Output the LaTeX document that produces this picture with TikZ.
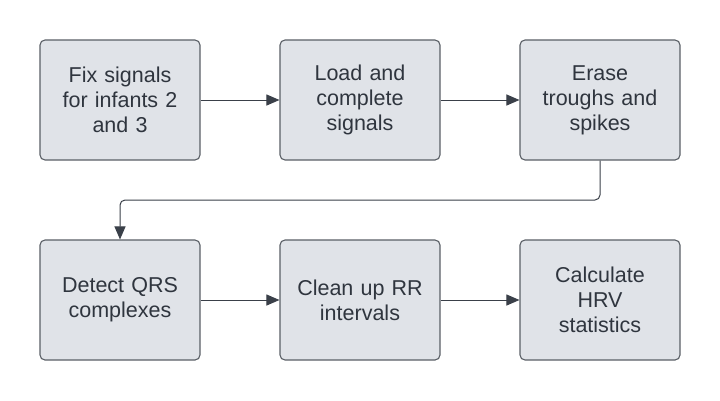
\documentclass[tikz,border=0pt]{standalone}
\usepackage{fontspec}
\setmainfont{Liberation Sans}
\usetikzlibrary{arrows.meta}
\definecolor{boxfill}{HTML}{E0E3E8}
\definecolor{boxline}{HTML}{5A5F66}
\definecolor{txt}{HTML}{2F353E}
\definecolor{arr}{HTML}{3A4049}
\tikzset{
  stepbox/.style={draw=boxline, fill=boxfill, line width=1.1pt, rounded corners=5pt,
    minimum width=160pt, minimum height=120pt, inner sep=0pt, align=center,
    text=txt, font=\fontsize{21.5}{25}\selectfont, text width=150pt},
  conn/.style={draw=arr, line width=1pt, -{Triangle[length=13pt,width=11pt]}}
}
\begin{document}
\begin{tikzpicture}[x=1pt,y=-1pt]
\useasboundingbox (0,0) rectangle (720,400);
\fill[white] (0,0) rectangle (720,400);
\node[stepbox] (a) at (120,100) {Fix signals\\for infants 2\\and 3};
\node[stepbox] (b) at (360,100) {Load and\\complete\\signals};
\node[stepbox] (c) at (600,100) {Erase\\troughs and\\spikes};
\node[stepbox] (d) at (120,300) {Detect QRS\\complexes};
\node[stepbox] (e) at (360,300) {Clean up RR\\intervals};
\node[stepbox] (f) at (600,300) {Calculate\\HRV\\statistics};
\draw[conn] (a) -- (b);
\draw[conn] (b) -- (c);
\draw[conn] (d) -- (e);
\draw[conn] (e) -- (f);
\draw[conn, rounded corners=5pt] (c.south) -- (600,200) -- (120,200) -- (d.north);
\end{tikzpicture}
\end{document}
